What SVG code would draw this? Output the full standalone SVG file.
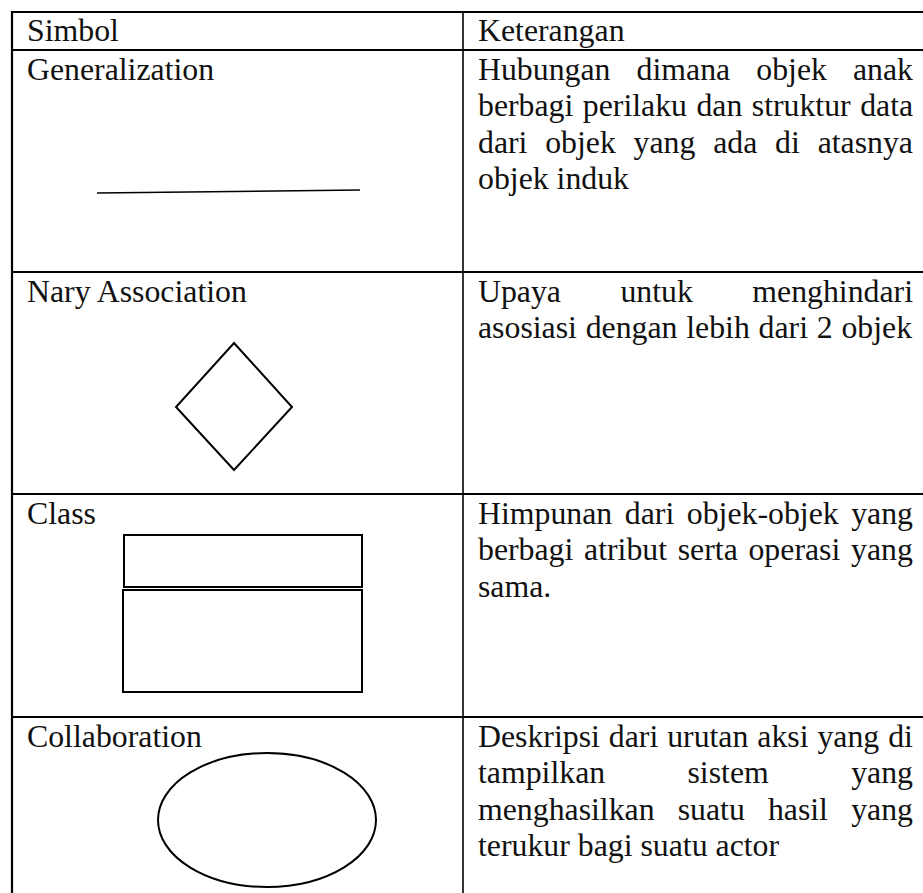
<svg xmlns="http://www.w3.org/2000/svg" width="923" height="893" viewBox="0 0 923 893">
  <style>
    .grid { stroke: #000; stroke-width: 2.2; fill: none; }
    .sym { stroke: #000; stroke-width: 2; fill: none; }
    .t { font-family: "Liberation Serif", "Times New Roman", Times, serif; font-size: 31.8px; fill: #111; }
  </style>
  <rect width="923" height="893" fill="#fff"/>

  <!-- table rules -->
  <g id="table">
    <line class="grid" x1="12" y1="12" x2="923" y2="12"/>
    <line class="grid" x1="12" y1="50" x2="923" y2="50"/>
    <line class="grid" x1="12" y1="272" x2="923" y2="272"/>
    <line class="grid" x1="12" y1="494" x2="923" y2="494"/>
    <line class="grid" x1="12" y1="717" x2="923" y2="717"/>
    <line class="grid" x1="12" y1="11" x2="12" y2="893"/>
    <line class="grid" x1="463" y1="11" x2="463" y2="893" style="stroke-width:1.6"/>
  </g>

  <!-- header row -->
  <g id="header">
    <text class="t" x="27" y="41">Simbol</text>
    <text class="t" x="478" y="41">Keterangan</text>
  </g>

  <!-- generalization row -->
  <g id="generalization">
    <line class="sym" x1="97" y1="193" x2="360" y2="190" style="stroke-width:1.6"/>
    <text class="t" x="27" y="79.5">Generalization</text>
    <text class="t" y="79.5"><tspan x="478">Hubungan</tspan><tspan x="636.6">dimana</tspan><tspan x="756.3">objek</tspan><tspan x="913" text-anchor="end">anak</tspan></text>
    <text class="t" x="478" y="116" word-spacing="1.5">berbagi perilaku dan struktur data</text>
    <text class="t" y="152.5"><tspan x="478">dari</tspan><tspan x="545.2">objek</tspan><tspan x="633.6">yang</tspan><tspan x="713.2">ada</tspan><tspan x="775.1">di</tspan><tspan x="913" text-anchor="end">atasnya</tspan></text>
    <text class="t" x="478" y="189">objek induk</text>
  </g>

  <!-- nary association row -->
  <g id="nary-association">
    <polygon class="sym" points="234,343 292,407 234,470 176,407"/>
    <text class="t" x="27" y="301.5">Nary Association</text>
    <text class="t" y="301.5"><tspan x="478">Upaya</tspan><tspan x="620.4">untuk</tspan><tspan x="913" text-anchor="end">menghindari</tspan></text>
    <text class="t" x="478" y="338" word-spacing="0.8">asosiasi dengan lebih dari 2 objek</text>
  </g>

  <!-- class row -->
  <g id="class">
    <rect class="sym" x="124" y="535" width="238" height="52"/>
    <rect class="sym" x="123" y="590" width="239" height="102"/>
    <text class="t" x="27" y="523.5">Class</text>
    <text class="t" x="478" y="523.5" word-spacing="4.6">Himpunan dari objek-objek yang</text>
    <text class="t" x="478" y="560" word-spacing="2.75">berbagi atribut serta operasi yang</text>
    <text class="t" x="478" y="596.5">sama.</text>
  </g>

  <!-- collaboration row -->
  <g id="collaboration">
    <ellipse class="sym" cx="267" cy="820" rx="109" ry="67"/>
    <text class="t" x="27" y="746.5">Collaboration</text>
    <text class="t" x="478" y="746.5" word-spacing="0.97">Deskripsi dari urutan aksi yang di</text>
    <text class="t" y="783"><tspan x="478">tampilkan</tspan><tspan x="687.5">sistem</tspan><tspan x="913" text-anchor="end">yang</tspan></text>
    <text class="t" y="819.5"><tspan x="478">menghasilkan</tspan><tspan x="677.7">suatu</tspan><tspan x="767.9">hasil</tspan><tspan x="913" text-anchor="end">yang</tspan></text>
    <text class="t" x="478" y="856">terukur bagi suatu actor</text>
  </g>
</svg>
